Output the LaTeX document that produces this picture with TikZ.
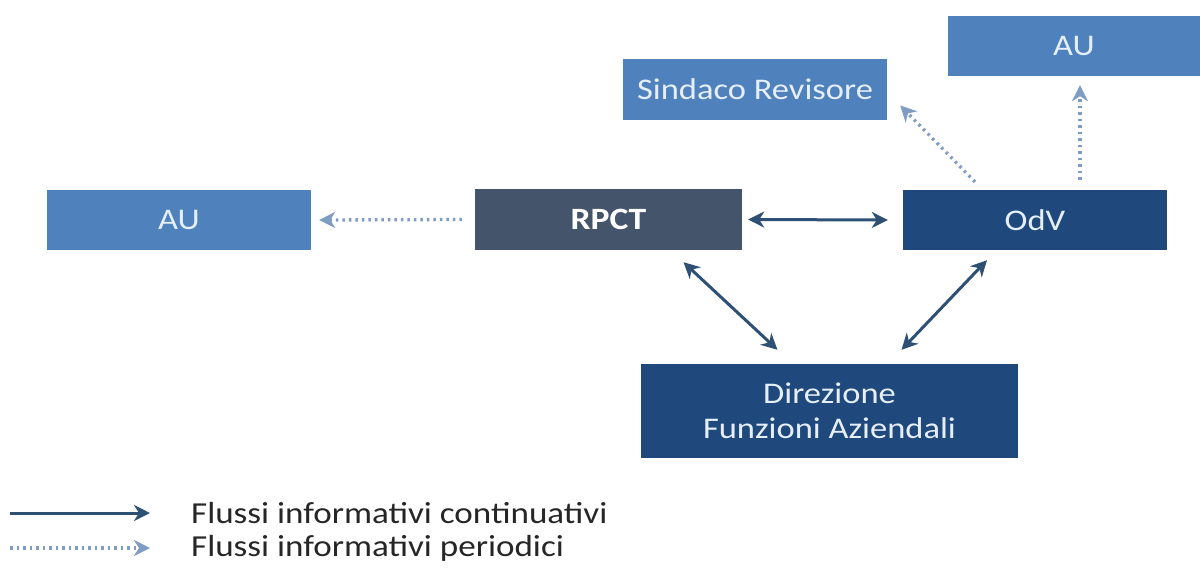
\documentclass[tikz,border=0pt]{standalone}
\usepackage{fontspec}
\setmainfont{Carlito}[FakeStretch=1.15]
\usetikzlibrary{arrows.meta}
\definecolor{boxlight}{HTML}{4F81BD}
\definecolor{boxslate}{HTML}{44546A}
\definecolor{boxnavy}{HTML}{1F497D}
\definecolor{flowsolid}{HTML}{2E5075}
\definecolor{flowdot}{HTML}{7F9CC2}
\definecolor{boxtext}{HTML}{E6EEF8}
\tikzset{ box/.style = { rectangle % organ box
        , inner sep = 0pt
        , text = boxtext
        , font = \fontsize{30}{35}\selectfont
        , align = center
        }
        , legend_text/.style = { anchor = west % legend label
        , inner sep = 0pt
        , text = black!85
        , font = \fontsize{30.5}{35}\selectfont
        }
        }
\begin{document}
\begin{tikzpicture}[x=1pt, y=1pt,
        light_style/.style={box,fill=boxlight,minimum width=264pt,minimum height=60pt},
        slate_style/.style={box,fill=boxslate,minimum width=267pt,minimum height=61pt,font=\fontsize{31}{35}\selectfont\bfseries,text=white},
        navy_style/.style={box,fill=boxnavy,minimum width=264pt,minimum height=60pt},
        solid_edge_style/.style={draw=flowsolid, line width=3pt, {Stealth[length=16pt,width=16pt,inset=5pt]}-{Stealth[length=16pt,width=16pt,inset=5pt]}},
        solid_legend_style/.style={draw=flowsolid, line width=3pt, -{Stealth[length=16pt,width=16pt,inset=5pt]}},
        dotted_edge_style/.style={draw=flowdot, line width=3.3pt, dash pattern=on 2.5pt off 4pt, -{Stealth[length=16pt,width=16pt,inset=5pt]}}]
        \useasboundingbox (0,0) rectangle (1200,-568);

        \node [light_style](au_left) at (179,-220) {AU};
        \node [slate_style](rpct) at (608.5,-219.5) {RPCT};
        \node [navy_style](odv) at (1035,-220) {OdV};
        \node [light_style,minimum height=61pt](sindaco) at (755,-89.5) {Sindaco Revisore};
        \node [light_style,minimum width=252pt](au_top) at (1074,-46) {AU};
        \node [navy_style,minimum width=377pt,minimum height=94pt](dir) at (829.5,-411) {Direzione\\Funzioni Aziendali};

        \draw [solid_edge_style] ([xshift=6]rpct.east) -- ([xshift=-15]odv.west);
        \draw [solid_edge_style] ([shift={(75,-12)}]rpct.south) -- ([shift={(-52,14)}]dir.north);
        \draw [solid_edge_style] ([shift={(-48,-10)}]odv.south) -- ([shift={(72,14)}]dir.north);
        \draw [dotted_edge_style] ([xshift=-13]rpct.west) -- ([xshift=8]au_left.east);
        \draw [dotted_edge_style] ([shift={(-60,8)}]odv.north) -- ([shift={(13,-16)}]sindaco.east);
        \draw [dotted_edge_style] ([shift={(45,10)}]odv.north) -- ([shift={(6,-9)}]au_top.south);

        % legend
        \node [legend_text](leg_cont) at (191,-513) {Flussi informativi continuativi};
        \node [legend_text](leg_per) at (191,-548) {Flussi informativi periodici};
        \coordinate (leg_cont_start) at (10,-513);
        \coordinate (leg_per_start) at (10,-548);
        \draw [solid_legend_style] (leg_cont_start) -- ([xshift=-41]leg_cont.west);
        \draw [dotted_edge_style] (leg_per_start) -- ([xshift=-41]leg_per.west);
        \end{tikzpicture}
\end{document}
